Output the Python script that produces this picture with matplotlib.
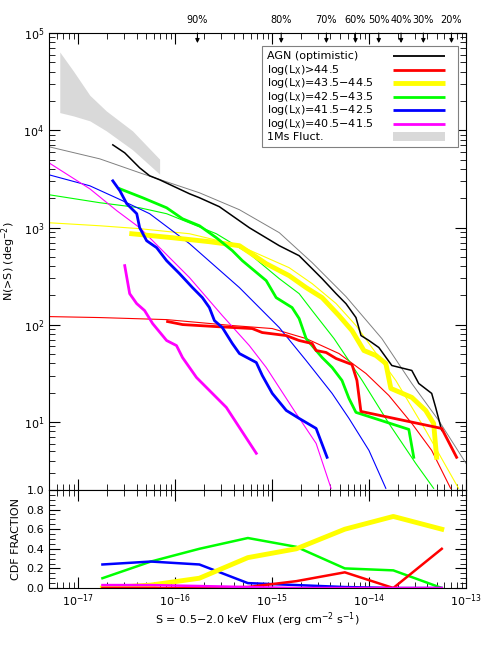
import numpy as np
import matplotlib.pyplot as plt
from matplotlib.patches import Rectangle
from matplotlib.ticker import LogLocator, NullFormatter, MultipleLocator, FixedLocator

plt.rcParams['font.family'] = 'DejaVu Sans'
plt.rcParams['font.size'] = 8

# ---- values (log10 S, log10 N) ----
# 1Ms fluctuation band
band_logs = [-17.19, -17.05, -16.88, -16.71, -16.44, -16.16]
band_hi = [4.805, 4.61, 4.36, 4.199, 3.994, 3.703]
band_lo = [4.182, 4.148, 4.097, 3.994, 3.80, 3.549]

# thin model curves
agn_mod_logs = [-17.30, -16.777, -16.366, -15.749, -15.337, -14.926, -14.587, -14.238, -13.868, -13.559, -13.282, -13.0]
agn_mod_logn = [3.83, 3.706, 3.563, 3.357, 3.183, 2.947, 2.639, 2.290, 1.858, 1.396, 1.016, 0.575]
yel_mod_logs = [-17.301, -16.777, -16.366, -15.852, -15.337, -14.824, -14.587, -14.340, -14.135, -13.724, -13.416, -13.077]
yel_mod_logn = [3.049, 3.018, 2.988, 2.936, 2.813, 2.587, 2.423, 2.218, 1.992, 1.427, 0.914, 0.318]
grn_mod_logs = [-17.301, -16.777, -16.366, -16.088, -15.575, -15.235, -14.926, -14.721, -14.587, -14.361, -14.071, -13.796, -13.519, -13.334]
grn_mod_logn = [3.337, 3.255, 3.203, 3.142, 2.936, 2.731, 2.474, 2.320, 2.146, 1.858, 1.427, 0.986, 0.575, 0.318]
blu_mod_logs = [-17.301, -16.880, -16.541, -16.263, -15.852, -15.337, -14.926, -14.649, -14.381, -14.207, -14.001, -13.827]
blu_mod_logn = [3.542, 3.429, 3.275, 3.142, 2.834, 2.382, 1.971, 1.632, 1.294, 1.037, 0.708, 0.318]
mag_mod_logs = [-17.301, -16.880, -16.602, -16.366, -15.852, -15.513, -15.235, -15.061, -14.773, -14.546, -14.392]
mag_mod_logn = [3.665, 3.398, 3.173, 2.998, 2.485, 2.094, 1.786, 1.561, 1.119, 0.780, 0.318]
red_mod_logs = [-17.301, -16.777, -16.088, -15.410, -14.999, -14.649, -14.310, -14.032, -13.796, -13.559, -13.354, -13.159]
red_mod_logn = [2.084, 2.074, 2.053, 1.992, 1.961, 1.858, 1.704, 1.499, 1.273, 0.986, 0.708, 0.318]

# observed counts (thick)
agn_logs = [-16.643, -16.520, -16.438, -16.366, -16.263, -16.160, -16.006, -15.852, -15.749, -15.544,
            -15.235, -14.926, -14.721, -14.587, -14.484, -14.340, -14.238, -14.135, -14.083, -14.001,
            -13.899, -13.765, -13.559, -13.487, -13.354, -13.313, -13.251]
agn_logn = [3.850, 3.768, 3.686, 3.614, 3.532, 3.491, 3.419, 3.347, 3.306, 3.214,
            2.998, 2.813, 2.710, 2.577, 2.474, 2.320, 2.217, 2.074, 1.889, 1.838,
            1.766, 1.581, 1.530, 1.396, 1.294, 1.150, 0.914]
red_logs = [-16.078, -15.924, -15.575, -15.205, -15.102, -14.855, -14.721, -14.587, -14.546, -14.443,
            -14.340, -14.176, -14.125, -14.084, -13.251, -13.097]
red_logn = [2.033, 2.002, 1.981, 1.961, 1.920, 1.889, 1.838, 1.807, 1.735, 1.715,
            1.653, 1.591, 1.427, 1.109, 0.934, 0.637]
yel_logs = [-16.448, -16.027, -15.646, -15.337, -15.061, -14.824, -14.649, -14.484, -14.310, -14.176,
            -14.053, -13.929, -13.827, -13.775, -13.559, -13.416, -13.334, -13.303]
yel_logn = [2.936, 2.895, 2.854, 2.813, 2.628, 2.505, 2.382, 2.279, 2.094, 1.940,
            1.735, 1.684, 1.602, 1.345, 1.253, 1.119, 0.986, 0.637]
grn_logs = [-16.570, -16.335, -16.088, -15.924, -15.749, -15.575, -15.410, -15.307, -15.061, -14.958,
            -14.794, -14.721, -14.649, -14.484, -14.381, -14.279, -14.207, -14.135, -13.590, -13.539]
grn_logn = [3.398, 3.306, 3.203, 3.090, 3.018, 2.895, 2.762, 2.659, 2.454, 2.279,
            2.177, 2.064, 1.858, 1.663, 1.561, 1.427, 1.242, 1.099, 0.924, 0.637]
blu_logs = [-16.643, -16.570, -16.499, -16.396, -16.366, -16.294, -16.191, -16.088, -15.955, -15.821,
            -15.719, -15.647, -15.595, -15.513, -15.410, -15.337, -15.163, -15.101, -14.998, -14.854,
            -14.721, -14.546, -14.433]
blu_logn = [3.480, 3.378, 3.244, 3.142, 2.998, 2.864, 2.793, 2.659, 2.526, 2.382,
            2.279, 2.177, 2.043, 1.971, 1.807, 1.704, 1.612, 1.478, 1.294, 1.119,
            1.037, 0.934, 0.637]
mag_logs = [-16.520, -16.469, -16.397, -16.315, -16.232, -16.088, -15.986, -15.924, -15.780, -15.616,
            -15.472, -15.338, -15.163]
mag_logn = [2.608, 2.320, 2.218, 2.146, 2.012, 1.838, 1.786, 1.663, 1.458, 1.294,
            1.150, 0.945, 0.678]

# CDF fraction panel
cdf_logs = [-16.75, -16.25, -15.75, -15.25, -14.75, -14.25, -13.75, -13.25]
cdf_red = [0.0, 0.0, 0.0, 0.01, 0.07, 0.16, 0.0, 0.40]
cdf_yel = [0.0, 0.03, 0.10, 0.31, 0.40, 0.60, 0.73, 0.60]
cdf_grn = [0.10, 0.27, 0.40, 0.51, 0.42, 0.20, 0.18, 0.0]
cdf_blu = [0.24, 0.27, 0.24, 0.05, 0.03, 0.01, 0.0, 0.0]
cdf_mag = [0.03, 0.03, 0.02, 0.01, 0.0, 0.0, 0.0, 0.0]

# completeness arrows on top axis
pct_labels = ['90%', '80%', '70%', '60%', '50%', '40%', '30%', '20%']
pct_logs = [-15.77, -14.906, -14.44, -14.14, -13.90, -13.67, -13.44, -13.15]

leg_labels = ['AGN (optimistic)', r'log(L$_{\rm X}$)>44.5', r'log(L$_{\rm X}$)=43.5$-$44.5',
              r'log(L$_{\rm X}$)=42.5$-$43.5', r'log(L$_{\rm X}$)=41.5$-$42.5',
              r'log(L$_{\rm X}$)=40.5$-$41.5', '1Ms Fluct.']
leg_colors = ['black', '#ff0000', '#ffff00', '#00ff00', '#0000ff', '#ff00ff', '#d9d9d9']
leg_widths = [1.3, 2.0, 3.5, 2.0, 2.0, 2.0, 0]

x_decades = [1e-17, 1e-16, 1e-15, 1e-14, 1e-13]


def p(v):
    return 10.0 ** np.array(v)


fig = plt.figure(figsize=(4.91, 6.54), dpi=100)
ax = fig.add_axes([0.0998, 0.2508, 0.8493, 0.6987])
ax2 = fig.add_axes([0.0998, 0.1009, 0.8493, 0.1499])

ax.fill_between(p(band_logs), p(band_lo), p(band_hi), color='#d9d9d9', lw=0)

# models
ax.plot(p(agn_mod_logs), p(agn_mod_logn), color='#808080', lw=0.7)
ax.plot(p(red_mod_logs), p(red_mod_logn), color='#ff0000', lw=0.8)
ax.plot(p(yel_mod_logs), p(yel_mod_logn), color='#ffff00', lw=0.8)
ax.plot(p(grn_mod_logs), p(grn_mod_logn), color='#00ff00', lw=0.8)
ax.plot(p(blu_mod_logs), p(blu_mod_logn), color='#0000ff', lw=0.8)
ax.plot(p(mag_mod_logs), p(mag_mod_logn), color='#ff00ff', lw=0.8)

# data
ax.plot(p(agn_logs), p(agn_logn), color='black', lw=1.1)
ax.plot(p(yel_logs), p(yel_logn), color='#ffff00', lw=3.5)
ax.plot(p(grn_logs), p(grn_logn), color='#00ff00', lw=2.0)
ax.plot(p(red_logs), p(red_logn), color='#ff0000', lw=2.0)
ax.plot(p(blu_logs), p(blu_logn), color='#0000ff', lw=2.0)
ax.plot(p(mag_logs), p(mag_logn), color='#ff00ff', lw=2.0)

for a in (ax, ax2):
    a.set_xscale('log')
    a.set_xlim(5.0e-18, 1e-13)
    a.tick_params(which='both', direction='in', top=True, right=True, labelsize=8)
    a.tick_params(which='major', length=8, width=0.8)
    a.tick_params(which='minor', length=4, width=0.6)
    a.xaxis.set_major_locator(FixedLocator(x_decades))
    a.xaxis.set_minor_locator(LogLocator(base=10, subs=np.arange(2, 10), numticks=20))
    a.xaxis.set_minor_formatter(NullFormatter())

ax.set_yscale('log')
ax.set_ylim(2, 1e5)
ax.yaxis.set_minor_locator(LogLocator(base=10, subs=np.arange(2, 10), numticks=20))
ax.yaxis.set_minor_formatter(NullFormatter())
ax.set_xticklabels([])
ax.set_ylabel(r'N(>S) (deg$^{-2}$)', fontsize=8)

# top arrows
for lab, s in zip(pct_labels, pct_logs):
    ax.annotate('', xy=(10 ** s, 0.978), xytext=(10 ** s, 1.0),
                xycoords=('data', 'axes fraction'),
                arrowprops=dict(arrowstyle='-|>', color='black', lw=0.8,
                                mutation_scale=6, shrinkA=0, shrinkB=0))
    ax.text(10 ** s, 1.028, lab, transform=ax.get_xaxis_transform(),
            ha='center', va='center', fontsize=7)

# legend box drawn by hand
ax.add_patch(Rectangle((0.510, 0.750), 0.470, 0.2216, transform=ax.transAxes,
                       facecolor='white', edgecolor='#808080', lw=0.8, zorder=5))
row_y = [0.9497, 0.919, 0.890, 0.861, 0.8315, 0.802, 0.773]
for lab, c, w, yy in zip(leg_labels, leg_colors, leg_widths, row_y):
    ax.text(0.522, yy, lab, transform=ax.transAxes, ha='left', va='center',
            fontsize=8, zorder=6)
    if w > 0:
        ax.plot([0.825, 0.950], [yy, yy], transform=ax.transAxes, color=c, lw=w,
                solid_capstyle='butt', zorder=6)
    else:
        ax.add_patch(Rectangle((0.825, yy - 0.01), 0.125, 0.02, transform=ax.transAxes,
                               facecolor=c, lw=0, zorder=6))

# CDF panel
ax2.plot(p(cdf_logs), cdf_grn, color='#00ff00', lw=1.8)
ax2.plot(p(cdf_logs), cdf_blu, color='#0000ff', lw=1.8)
ax2.plot(p(cdf_logs), cdf_yel, color='#ffff00', lw=3.5)
ax2.plot(p(cdf_logs), cdf_red, color='#ff0000', lw=1.8)
ax2.plot(p(cdf_logs), cdf_mag, color='#ff00ff', lw=1.8)
ax2.set_ylim(0, 1.0)
ax2.yaxis.set_major_locator(FixedLocator([0.0, 0.2, 0.4, 0.6, 0.8, 1.0]))
ax2.set_yticklabels(['0.0', '0.2', '0.4', '0.6', '0.8', '1.0'])
ax2.yaxis.set_minor_locator(MultipleLocator(0.05))
ax2.set_ylabel('CDF FRACTION', fontsize=8)
ax2.set_xlabel(r'S = 0.5$-$2.0 keV Flux (erg cm$^{-2}$ s$^{-1}$)', fontsize=8, labelpad=1)

fig.align_ylabels([ax, ax2])
fig.savefig('out.png', dpi=100)
